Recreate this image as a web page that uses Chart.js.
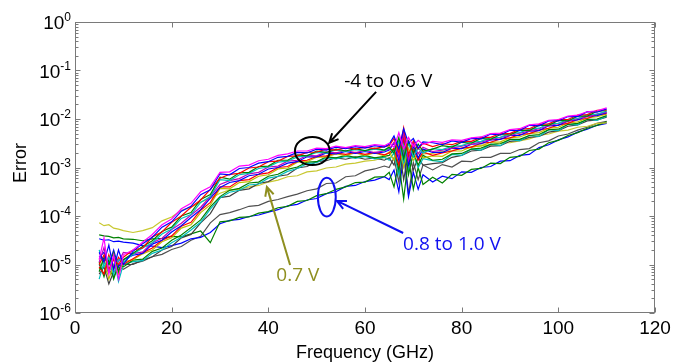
<!DOCTYPE html>
<html>
<head>
<meta charset="utf-8">
<script src="https://cdn.jsdelivr.net/npm/chart.js@4.4.1/dist/chart.umd.min.js"></script>
<style>
  body { margin: 0; background: #fff; }
  #wrap { width: 685px; height: 364px; }
</style>
</head>
<body>
<div id="wrap"><canvas id="myChart" width="685" height="364"></canvas></div>
<script>
// Frequency grid (GHz) shared by every trace
var freqGHz = [5,6,7,8,9,10,12,14,16,18,20,22,24,26,28,30,32,34,36,38,40,42,44,46,48,50,52,54,56,58,60,62,64,
  65,66,67,68,69,70,71,72,74,76,78,80,82,84,86,88,90,92,94,96,98,100,102,104,106,108,110];

// log10(error), one array per trace
// -4 to 0.6 V bundle (top to bottom)
var bandMagenta = [-4.9,-4.45,-5.2,-4.8,-5.3,-4.8,
  -4.7,-4.54,-4.38,-4.18,-4.06,-3.85,-3.74,-3.5,-3.4,-3.1,-3.09,-2.97,-2.95,-2.86,-2.83,-2.75,-2.72,-2.66,-2.66,-2.6,-2.61,-2.56,-2.59,-2.55,-2.57,-2.53,-2.55,
  -2.5,-2.58,-2.28,-2.62,-2.38,-2.56,-2.44,-2.52,
  -2.46,-2.48,-2.43,-2.44,-2.39,-2.37,-2.3,-2.29,-2.22,-2.2,-2.12,-2.1,-2.03,-2.01,-1.94,-1.92,-1.85,-1.83,-1.77];
var bandBlue2 = [-4.75,-4.95,-4.6,-5.1,-4.7,-5.0,
  -4.73,-4.57,-4.44,-4.23,-4.12,-3.9,-3.8,-3.56,-3.46,-3.13,-3.15,-3.02,-3.0,-2.91,-2.88,-2.79,-2.77,-2.69,-2.7,-2.62,-2.64,-2.58,-2.61,-2.57,-2.6,-2.55,-2.58,
  -2.52,-2.35,-2.62,-2.2,-2.5,-2.4,-2.6,-2.47,
  -2.49,-2.53,-2.45,-2.48,-2.4,-2.41,-2.31,-2.33,-2.23,-2.24,-2.13,-2.14,-2.04,-2.04,-1.95,-1.95,-1.85,-1.86,-1.79];
var bandRed = [-5.0,-4.8,-5.1,-4.9,-5.0,-4.85,
  -4.7,-4.66,-4.43,-4.33,-4.13,-4.0,-3.82,-3.67,-3.45,-3.22,-3.14,-3.12,-3.01,-2.99,-2.88,-2.87,-2.77,-2.76,-2.69,-2.68,-2.62,-2.64,-2.59,-2.62,-2.58,-2.61,-2.57,
  -2.55,-2.4,-2.7,-2.18,-2.75,-2.45,-2.62,-2.5,
  -2.57,-2.51,-2.53,-2.46,-2.46,-2.38,-2.38,-2.3,-2.3,-2.21,-2.2,-2.11,-2.1,-2.01,-2.01,-1.92,-1.91,-1.82,-1.81];
var bandGreen2 = [-5.15,-4.85,-5.0,-4.75,-5.15,-4.9,
  -4.77,-4.63,-4.51,-4.32,-4.23,-4.0,-3.93,-3.66,-3.56,-3.2,-3.24,-3.11,-3.1,-2.98,-2.97,-2.85,-2.85,-2.74,-2.76,-2.66,-2.69,-2.62,-2.66,-2.61,-2.65,-2.6,-2.64,
  -2.58,-2.7,-2.38,-2.82,-2.45,-2.7,-2.52,-2.66,
  -2.62,-2.55,-2.58,-2.48,-2.5,-2.4,-2.42,-2.32,-2.33,-2.23,-2.24,-2.13,-2.13,-2.03,-2.04,-1.94,-1.94,-1.84,-1.83];
var bandCyan = [-4.7,-5.05,-4.85,-5.2,-4.9,-4.95,
  -4.79,-4.66,-4.55,-4.37,-4.27,-4.05,-3.97,-3.72,-3.6,-3.25,-3.27,-3.15,-3.12,-3.02,-2.99,-2.89,-2.87,-2.78,-2.76,-2.69,-2.7,-2.64,-2.67,-2.63,-2.66,-2.62,-2.65,
  -2.6,-2.72,-2.45,-2.9,-2.5,-2.78,-2.6,-2.7,
  -2.61,-2.63,-2.56,-2.55,-2.48,-2.46,-2.39,-2.38,-2.3,-2.28,-2.21,-2.19,-2.1,-2.09,-2.01,-1.99,-1.91,-1.9,-1.84];
var bandMagenta2 = [-4.95,-4.65,-5.15,-4.85,-4.95,-4.75,
  -4.78,-4.74,-4.55,-4.46,-4.28,-4.15,-3.98,-3.82,-3.6,-3.35,-3.27,-3.23,-3.13,-3.1,-2.99,-2.97,-2.87,-2.85,-2.75,-2.76,-2.68,-2.7,-2.65,-2.69,-2.65,-2.69,-2.66,
  -2.62,-2.48,-2.78,-2.3,-2.85,-2.5,-2.72,-2.58,
  -2.67,-2.64,-2.6,-2.56,-2.52,-2.47,-2.43,-2.38,-2.34,-2.29,-2.25,-2.2,-2.14,-2.09,-2.05,-1.99,-1.95,-1.9,-1.86];
var bandBlue = [-4.85,-4.75,-5.0,-4.7,-5.05,-4.9,
  -4.81,-4.77,-4.58,-4.5,-4.33,-4.2,-4.03,-3.87,-3.63,-3.41,-3.31,-3.27,-3.17,-3.14,-3.03,-3.0,-2.91,-2.88,-2.78,-2.78,-2.7,-2.72,-2.67,-2.71,-2.67,-2.71,-2.68,
  -2.64,-2.5,-2.85,-2.25,-2.95,-2.55,-2.8,-2.62,
  -2.69,-2.69,-2.6,-2.61,-2.52,-2.51,-2.43,-2.42,-2.34,-2.34,-2.25,-2.24,-2.14,-2.13,-2.04,-2.02,-1.94,-1.93,-1.87];
var bandRed2 = [-5.05,-5.2,-4.8,-5.1,-4.85,-5.0,
  -4.88,-4.76,-4.66,-4.5,-4.41,-4.21,-4.13,-3.88,-3.72,-3.4,-3.4,-3.27,-3.25,-3.14,-3.11,-3.0,-2.98,-2.87,-2.85,-2.77,-2.76,-2.7,-2.73,-2.69,-2.73,-2.69,-2.74,
  -2.7,-2.6,-2.95,-2.4,-2.9,-2.62,-2.85,-2.68,
  -2.75,-2.7,-2.66,-2.6,-2.58,-2.5,-2.48,-2.41,-2.39,-2.32,-2.3,-2.23,-2.19,-2.12,-2.09,-2.01,-1.99,-1.91,-1.89];
var bandYellow = [-5.1,-4.9,-5.3,-5.0,-5.2,-4.95,
  -4.9,-4.78,-4.7,-4.53,-4.45,-4.25,-4.18,-3.93,-3.77,-3.43,-3.44,-3.31,-3.29,-3.18,-3.15,-3.03,-3.01,-2.89,-2.88,-2.79,-2.78,-2.72,-2.75,-2.7,-2.75,-2.7,-2.76,
  -2.68,-2.85,-2.5,-3.0,-2.6,-2.85,-2.7,-2.8,
  -2.76,-2.77,-2.66,-2.66,-2.57,-2.56,-2.48,-2.47,-2.39,-2.37,-2.3,-2.28,-2.19,-2.17,-2.08,-2.06,-1.98,-1.95,-1.9];
var bandGreen = [-4.95,-5.25,-4.9,-5.3,-5.0,-5.05,
  -4.91,-4.89,-4.73,-4.66,-4.5,-4.39,-4.24,-4.08,-3.81,-3.6,-3.47,-3.43,-3.32,-3.3,-3.18,-3.14,-3.04,-2.99,-2.89,-2.88,-2.78,-2.8,-2.75,-2.79,-2.75,-2.8,-2.77,
  -2.75,-2.62,-3.05,-2.35,-3.15,-2.7,-2.95,-2.75,
  -2.85,-2.83,-2.72,-2.71,-2.62,-2.6,-2.52,-2.51,-2.42,-2.42,-2.34,-2.32,-2.22,-2.21,-2.11,-2.09,-2.01,-2.0,-1.93];
var bandCyan2 = [-5.3,-4.95,-5.15,-4.85,-5.35,-5.0,
  -4.94,-4.92,-4.77,-4.7,-4.55,-4.44,-4.29,-4.13,-3.86,-3.63,-3.51,-3.47,-3.36,-3.34,-3.22,-3.18,-3.08,-3.02,-2.92,-2.9,-2.8,-2.82,-2.77,-2.81,-2.77,-2.82,-2.79,
  -2.85,-2.7,-3.15,-2.45,-3.05,-2.75,-3.0,-2.82,
  -2.86,-2.88,-2.73,-2.75,-2.62,-2.64,-2.52,-2.55,-2.42,-2.45,-2.34,-2.36,-2.22,-2.24,-2.11,-2.12,-2.0,-2.03,-1.94];
var bandBlack = [-5.2,-5.05,-5.4,-5.15,-5.1,-5.0,
  -5.0,-4.91,-4.84,-4.7,-4.63,-4.45,-4.38,-4.14,-3.95,-3.62,-3.59,-3.47,-3.44,-3.33,-3.29,-3.18,-3.15,-3.01,-2.98,-2.88,-2.86,-2.8,-2.83,-2.78,-2.83,-2.8,-2.85,
  -2.8,-2.95,-2.55,-3.25,-2.7,-3.05,-2.8,-2.95,
  -2.92,-2.9,-2.79,-2.75,-2.66,-2.64,-2.56,-2.55,-2.46,-2.44,-2.38,-2.36,-2.27,-2.24,-2.15,-2.12,-2.04,-2.02,-1.96];

// 0.7 V
var v07 = [-4.14,-4.2,-4.18,-4.25,-4.27,-4.3,
  -4.34,-4.3,-4.24,-4.1,-4.02,-3.88,-3.82,-3.71,-3.64,-3.53,-3.46,-3.45,-3.4,-3.37,-3.3,-3.26,-3.19,-3.17,-3.09,-3.07,-3.01,-2.99,-2.93,-2.91,-2.87,-2.85,-2.79,
  -2.82,-2.7,-2.95,-2.45,-2.9,-2.65,-2.8,-2.72,
  -2.71,-2.67,-2.65,-2.6,-2.59,-2.54,-2.54,-2.49,-2.49,-2.45,-2.41,-2.34,-2.31,-2.25,-2.23,-2.17,-2.15,-2.09,-2.08];

// 0.8 to 1.0 V
var v08Gray = [-5.0,-5.2,-5.1,-5.25,-5.05,-5.1,
  -4.98,-4.93,-4.84,-4.79,-4.69,-4.63,-4.5,-4.42,-4.14,-3.97,-3.93,-3.87,-3.8,-3.78,-3.7,-3.66,-3.6,-3.55,-3.48,-3.44,-3.33,-3.32,-3.19,-3.17,-3.07,-3.03,-2.97,
  -3.0,-2.8,-3.3,-2.55,-3.55,-2.9,-3.25,-2.95,
  -3.05,-2.94,-2.99,-2.87,-2.88,-2.79,-2.79,-2.71,-2.71,-2.63,-2.61,-2.49,-2.45,-2.35,-2.31,-2.23,-2.17,-2.09,-2.05];
var v09Blue = [-4.47,-4.5,-4.49,-4.53,-4.52,-4.54,
  -4.56,-4.61,-4.62,-4.65,-4.61,-4.56,-4.47,-4.44,-4.34,-4.16,-4.09,-4.07,-4.01,-3.98,-3.92,-3.87,-3.79,-3.76,-3.67,-3.64,-3.54,-3.5,-3.39,-3.37,-3.29,-3.26,-3.19,
  -3.25,-3.05,-3.5,-2.75,-3.6,-3.1,-3.45,-3.15,
  -3.3,-3.18,-3.23,-3.09,-3.1,-3.0,-2.98,-2.87,-2.86,-2.75,-2.73,-2.59,-2.53,-2.43,-2.37,-2.27,-2.21,-2.13,-2.09];
var v10Green = [-4.39,-4.41,-4.42,-4.45,-4.44,-4.47,
  -4.48,-4.51,-4.47,-4.46,-4.42,-4.43,-4.37,-4.31,-4.55,-4.12,-4.1,-4.03,-4.02,-3.94,-3.91,-3.83,-3.8,-3.7,-3.68,-3.58,-3.54,-3.45,-3.4,-3.31,-3.3,-3.2,-3.19,
  -3.1,-3.4,-2.9,-3.65,-2.8,-3.45,-3.0,-3.35,
  -3.2,-3.32,-3.14,-3.16,-3.04,-3.02,-2.91,-2.92,-2.79,-2.77,-2.65,-2.62,-2.49,-2.44,-2.34,-2.28,-2.19,-2.13,-2.06];

// axis ticks
var xTicks = [0, 20, 40, 60, 80, 100, 120];
var yExponents = [-6, -5, -4, -3, -2, -1, 0];

var axisFont = '"Liberation Sans", Arial, sans-serif';
var noteFont = '"Open Sans", sans-serif';

function trace(label, logs, color) {
    return {
        label: label,
        data: freqGHz.map(function (f, i) { return { x: f, y: Math.pow(10, logs[i]) }; }),
        borderColor: color,
        borderWidth: 1.2,
        pointRadius: 0,
        fill: false,
        tension: 0
    };
}

function arrow(ctx, x1, y1, x2, y2, color) {
    var ang = Math.atan2(y2 - y1, x2 - x1), len = 10, spread = 0.45;
    ctx.strokeStyle = color;
    ctx.lineWidth = 2;
    ctx.beginPath();
    ctx.moveTo(x1, y1);
    ctx.lineTo(x2, y2);
    ctx.moveTo(x2 - len * Math.cos(ang - spread), y2 - len * Math.sin(ang - spread));
    ctx.lineTo(x2, y2);
    ctx.lineTo(x2 - len * Math.cos(ang + spread), y2 - len * Math.sin(ang + spread));
    ctx.stroke();
}

// frame, inside ticks, labels and the call-outs
var decorations = {
    id: 'decorations',
    afterDraw: function (chart) {
        var ctx = chart.ctx, a = chart.chartArea, x = chart.scales.x, y = chart.scales.y;
        var L = Math.round(a.left) + 0.5, R = Math.round(a.right) - 0.5;
        var T = Math.round(a.top) + 0.5, B = Math.round(a.bottom) - 0.5;
        ctx.save();

        // box
        ctx.strokeStyle = '#7a7a7a';
        ctx.lineWidth = 1;
        ctx.strokeRect(L, T, R - L, B - T);

        ctx.beginPath();
        xTicks.forEach(function (v) {
            var px = Math.round(x.getPixelForValue(v)) + 0.5;
            ctx.moveTo(px, B); ctx.lineTo(px, B - 5);
            ctx.moveTo(px, T); ctx.lineTo(px, T + 5);
        });
        yExponents.forEach(function (e) {
            var py = Math.round(y.getPixelForValue(Math.pow(10, e))) + 0.5;
            ctx.moveTo(L, py); ctx.lineTo(L + 5, py);
            ctx.moveTo(R, py); ctx.lineTo(R - 5, py);
            if (e < 0) {
                for (var m = 2; m <= 9; m++) {
                    var pm = Math.round(y.getPixelForValue(m * Math.pow(10, e))) + 0.5;
                    ctx.moveTo(L, pm); ctx.lineTo(L + 3, pm);
                    ctx.moveTo(R, pm); ctx.lineTo(R - 3, pm);
                }
            }
        });
        ctx.stroke();

        // y labels 10^n
        ctx.fillStyle = '#000';
        ctx.textAlign = 'right';
        ctx.textBaseline = 'alphabetic';
        yExponents.forEach(function (e) {
            var py = y.getPixelForValue(Math.pow(10, e));
            var exp = String(e);
            ctx.font = '12px ' + axisFont;
            var w = ctx.measureText(exp).width;
            ctx.fillText(exp, 71, py - 1);
            ctx.font = '19px ' + axisFont;
            ctx.fillText('10', 71 - w, py + 7);
        });

        // axis titles
        ctx.font = '18px ' + axisFont;
        ctx.textAlign = 'center';
        ctx.textBaseline = 'middle';
        ctx.fillText('Frequency (GHz)', (a.left + a.right) / 2, 353);
        ctx.save();
        ctx.translate(21, 163);
        ctx.rotate(-Math.PI / 2);
        ctx.fillText('Error', 0, 0);
        ctx.restore();

        // call-outs, placed in data units
        var px = function (f) { return x.getPixelForValue(f); };
        var py = function (l) { return y.getPixelForValue(Math.pow(10, l)); };

        ctx.lineWidth = 2;
        ctx.strokeStyle = '#000';
        ctx.beginPath();
        ctx.ellipse(px(49.1), py(-2.66), (px(52.7) - px(45.5)) / 2, (py(-2.95) - py(-2.37)) / 2, 0, 0, Math.PI * 2);
        ctx.stroke();
        arrow(ctx, px(62.3), py(-1.44), px(52.6), py(-2.49), '#000');

        ctx.strokeStyle = '#1010f0';
        ctx.beginPath();
        ctx.ellipse(px(52.1), py(-3.61), (px(53.95) - px(50.25)) / 2, (py(-4.01) - py(-3.21)) / 2, 0, 0, Math.PI * 2);
        ctx.stroke();
        arrow(ctx, px(67.9), py(-4.35), px(54.2), py(-3.69), '#1010f0');

        arrow(ctx, px(44.5), py(-5.01), px(39.7), py(-3.40), '#8f8f20');

        ctx.font = '19px ' + noteFont;
        ctx.fillStyle = '#000';
        ctx.fillText('-4 to 0.6 V', px(64.8), py(-1.22));
        ctx.fillStyle = '#1010f0';
        ctx.fillText('0.8 to 1.0 V', px(78), py(-4.58));
        ctx.fillStyle = '#8f8f20';
        ctx.fillText('0.7 V', px(46.1), py(-5.22));

        ctx.restore();
    }
};

var ctx = document.getElementById('myChart').getContext('2d');
var myChart = new Chart(ctx, {
    type: 'line',
    data: {
        datasets: [
            trace('-4 V', bandMagenta, '#ff00ff'),
            trace('-3.5 V', bandBlue2, '#0000ff'),
            trace('-3 V', bandRed, '#ff0000'),
            trace('-2.5 V', bandGreen2, '#008000'),
            trace('-2 V', bandCyan, '#00bfbf'),
            trace('-1.5 V', bandMagenta2, '#bf00bf'),
            trace('-1 V', bandBlue, '#0000ff'),
            trace('-0.5 V', bandRed2, '#ff0000'),
            trace('0 V', bandYellow, '#bfbf00'),
            trace('0.3 V', bandGreen, '#008000'),
            trace('0.5 V', bandCyan2, '#00bfbf'),
            trace('0.6 V', bandBlack, '#404040'),
            trace('0.7 V', v07, '#c8c830'),
            trace('1.0 V', v10Green, '#008000'),
            trace('0.9 V', v09Blue, '#0000ff'),
            trace('0.8 V', v08Gray, '#505050')
        ]
    },
    options: {
        responsive: false,
        devicePixelRatio: 1,
        animation: false,
        layout: { padding: { top: 22, right: 30, left: 0, bottom: 0 } },
        plugins: {
            legend: { display: false },
            tooltip: { enabled: false }
        },
        scales: {
            x: {
                type: 'linear',
                min: 0,
                max: 120,
                grid: { display: false, tickLength: 0 },
                border: { display: false },
                ticks: {
                    stepSize: 20,
                    maxRotation: 0,
                    autoSkip: false,
                    color: '#000',
                    padding: 4,
                    font: { family: axisFont, size: 19 }
                },
                afterFit: function (s) { s.height = 51; }
            },
            y: {
                type: 'logarithmic',
                min: 1e-6,
                max: 1,
                grid: { display: false },
                border: { display: false },
                ticks: { display: false },
                afterFit: function (s) { s.width = 75; }
            }
        }
    },
    plugins: [decorations]
});
</script>
</body>
</html>
